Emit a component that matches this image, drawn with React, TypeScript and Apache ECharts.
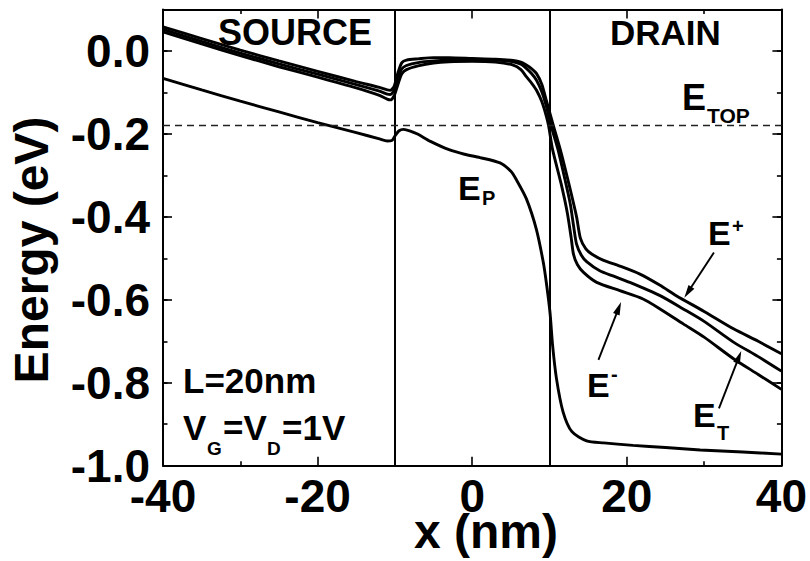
import React, { useEffect, useRef } from 'react';
import * as echarts from 'echarts';

// ---- data ----
const epX = [-40, -35, -30, -25, -20, -15, -12, -11, -10.4, -10, -9.5, -8.9, -8, -7, -5.4, -3, -1, 1, 3.6, 5, 5.7, 7, 8.3, 9.2, 9.6, 10.06, 10.4, 10.9, 11.75, 12.9, 14.8, 17, 20.8, 25, 29.5, 35, 40];
const epY = [-0.066, -0.094, -0.121, -0.147, -0.173, -0.197, -0.212, -0.217, -0.216, -0.205, -0.193, -0.189, -0.193, -0.201, -0.218, -0.238, -0.249, -0.257, -0.27, -0.29, -0.31, -0.356, -0.43, -0.51, -0.56, -0.63, -0.71, -0.79, -0.87, -0.918, -0.94, -0.945, -0.951, -0.956, -0.962, -0.967, -0.972];

const ePlusX = [-40, -35, -30, -25, -20, -15, -12, -11, -10.6, -10.1, -9.6, -9.1, -8.5, -7, -5, -3, 0, 3, 5.3, 6.3, 7, 7.7, 8.3, 9, 9.6, 10.5, 11.5, 12.5, 13.5, 14, 14.7, 15.5, 17, 19, 21.7, 24.3, 26.4, 30, 33.8, 37, 40];
const ePlusY = [0.058, 0.030, 0.002, -0.024, -0.049, -0.074, -0.088, -0.094, -0.095, -0.085, -0.052, -0.028, -0.022, -0.019, -0.016, -0.016, -0.018, -0.02, -0.023, -0.027, -0.034, -0.043, -0.054, -0.08, -0.12, -0.18, -0.245, -0.32, -0.4, -0.452, -0.477, -0.49, -0.505, -0.518, -0.538, -0.565, -0.59, -0.628, -0.67, -0.7, -0.73];

const eTX = [-40, -35, -30, -25, -20, -15, -12, -11, -10.6, -10.1, -9.6, -9.1, -8.5, -7, -5, -3, 0, 3, 5.3, 6.3, 7, 7.7, 8.3, 9, 9.6, 10.2, 11.1, 12, 12.7, 13.1, 13.5, 14.1, 14.8, 16.5, 18.3, 20.4, 24.3, 27.3, 30, 33.8, 37, 40];
const eTY = [0.052, 0.023, -0.005, -0.031, -0.056, -0.081, -0.097, -0.104, -0.105, -0.094, -0.065, -0.043, -0.035, -0.028, -0.024, -0.022, -0.021, -0.022, -0.026, -0.032, -0.042, -0.055, -0.07, -0.098, -0.134, -0.18, -0.238, -0.31, -0.37, -0.42, -0.466, -0.492, -0.508, -0.53, -0.543, -0.558, -0.59, -0.622, -0.652, -0.702, -0.737, -0.772];

const eMinusX = [-40, -35, -30, -25, -20, -15, -12, -11, -10.6, -10.1, -9.6, -9.1, -8.5, -7, -5, -3, 0, 3, 5.3, 6.3, 7, 7.7, 8.3, 9, 9.6, 9.9, 10.4, 11.5, 12.3, 12.8, 13.1, 13.6, 14.4, 16.1, 19.1, 22.1, 24.3, 27.3, 30, 33.8, 37, 40];
const eMinusY = [0.046, 0.017, -0.011, -0.038, -0.063, -0.089, -0.107, -0.116, -0.118, -0.108, -0.08, -0.055, -0.045, -0.036, -0.029, -0.026, -0.025, -0.027, -0.034, -0.045, -0.062, -0.078, -0.094, -0.122, -0.158, -0.182, -0.238, -0.32, -0.39, -0.45, -0.49, -0.515, -0.534, -0.558, -0.578, -0.598, -0.622, -0.658, -0.69, -0.742, -0.78, -0.816];

const gateEdges = [-10, 10];
const eTopLevel = -0.182;
const xRange = [-40, 40];
const yRange = [-1.0, 0.1];

// arrow annotations: [fromX, fromY, toX, toY]
const arrowPlus = [31.27, -0.486, 27.9, -0.582];
const arrowMinus = [16.33, -0.745, 18.95, -0.62];
const arrowT = [31.92, -0.862, 34.5, -0.738];

const FONT = '"Liberation Sans", Arial, Helvetica, sans-serif';

const zip = (xs: number[], ys: number[]) => xs.map((x, i) => [x, ys[i]]);

// text helper: left / baseline positioned bold text
const txt = (text: string, left: number, baseline: number, size: number) => ({
  type: 'text',
  x: left,
  y: baseline - 0.3465 * size,
  silent: true,
  style: {
    text,
    fill: '#000',
    font: `bold ${size}px ${FONT}`,
    lineHeight: Math.round(size * 0.8),
    align: 'left',
    verticalAlign: 'middle',
    textAlign: 'left',
    textVerticalAlign: 'middle',
  },
});

export default function App() {
  const ref = useRef<HTMLDivElement>(null);
  useEffect(() => {
    document.body.style.margin = '0';
    if (!ref.current) return;
    const chart = echarts.init(ref.current, null, { renderer: 'svg' });
    const lineCommon = {
      type: 'line',
      showSymbol: false,
      symbol: 'none',
      smooth: 0.25,
      xAxisIndex: 0,
      yAxisIndex: 0,
      lineStyle: { color: '#000', width: 2.9 },
      itemStyle: { color: '#000' },
      emphasis: { disabled: true },
      silent: true,
      z: 3,
    };
    const tickStyle = { color: '#000', width: 1.6 };
    const axisLine = { show: true, onZero: false, lineStyle: { color: '#000', width: 2 } };
    const noLine = { show: false, onZero: false };
    const baseX = {
      type: 'value', min: xRange[0], max: xRange[1], interval: 20,
      axisLine, splitLine: { show: false }, minorSplitLine: { show: false },
      axisTick: { inside: true, length: 9, lineStyle: tickStyle },
      minorTick: { show: true, splitNumber: 2, length: 4.5, lineStyle: tickStyle },
    };
    const baseY = {
      type: 'value', min: yRange[0], max: yRange[1],
      splitLine: { show: false },
    };
    const option = {
      animation: false,
      backgroundColor: '#fff',
      grid: { left: 163, right: 28.5, top: 9.5, bottom: 95.3, containLabel: false },
      xAxis: [
        {
          ...baseX, position: 'bottom',
          axisLabel: {
            margin: 15.5, color: '#000', fontSize: 46, lineHeight: 30, fontWeight: 'bold', fontFamily: FONT,
            showMinLabel: true, showMaxLabel: true,
            formatter: (v: number) => String(Math.round(v)),
          },
        },
        { ...baseX, position: 'top', axisLabel: { show: false } },
      ],
      yAxis: [
        {
          ...baseY, position: 'left', interval: 0.2,
          axisLine,
          axisTick: { inside: true, length: 9, lineStyle: tickStyle },
          axisLabel: {
            margin: 13, color: '#000', fontSize: 46, lineHeight: 29, fontWeight: 'bold', fontFamily: FONT,
            showMinLabel: true,
            formatter: (v: number) => (v > 0.05 ? '' : v.toFixed(1)),
          },
        },
        {
          ...baseY, position: 'left', interval: 0.1,
          axisLine: noLine,
          axisTick: { inside: true, length: 4.5, lineStyle: tickStyle },
          axisLabel: { show: false },
        },
        {
          ...baseY, position: 'right', interval: 0.2,
          axisLine,
          axisTick: { inside: true, length: 9, lineStyle: tickStyle },
          axisLabel: { show: false },
        },
        {
          ...baseY, position: 'right', interval: 0.1,
          axisLine: noLine,
          axisTick: { inside: true, length: 4.5, lineStyle: tickStyle },
          axisLabel: { show: false },
        },
      ],
      series: [
        {
          ...lineCommon, name: 'E_P', data: zip(epX, epY),
          markLine: {
            silent: true, symbol: 'none', animation: false,
            label: { show: false },
            emphasis: { disabled: true },
            lineStyle: { color: '#000', width: 2, type: 'solid' },
            data: gateEdges.map((g) => ({ xAxis: g })),
          },
        },
        {
          ...lineCommon, name: 'E+', data: zip(ePlusX, ePlusY),
          markLine: {
            silent: true, symbol: 'none', animation: false,
            label: { show: false },
            emphasis: { disabled: true },
            lineStyle: { color: '#222', width: 1.3, type: [7, 5] },
            data: [{ yAxis: eTopLevel }],
          },
        },
        {
          ...lineCommon, name: 'E_T', data: zip(eTX, eTY),
          markLine: {
            silent: true, animation: false,
            symbol: ['none', 'triangle'],
            symbolSize: [0, 12],
            label: { show: false },
            emphasis: { disabled: true },
            lineStyle: { color: '#000', width: 1.9, type: 'solid' },
            data: [arrowPlus, arrowMinus, arrowT].map((a) => [
              { coord: [a[0], a[1]], symbol: 'none' },
              { coord: [a[2], a[3]], symbol: 'triangle', symbolSize: [7, 13] },
            ]),
          },
        },
        { ...lineCommon, name: 'E-', data: zip(eMinusX, eMinusY) },
      ],
      graphic: [
        txt('SOURCE', 218, 45, 36),
        txt('DRAIN', 610, 45, 35),
        txt('E', 682, 110, 36), txt('TOP', 707, 123, 21),
        txt('E', 458, 200, 34), txt('P', 482, 205, 20),
        txt('E', 708, 245, 34), txt('+', 732, 233, 20),
        txt('E', 587, 397, 34), txt('-', 611, 381, 20),
        txt('E', 693, 427, 34), txt('T', 717, 440, 20),
        txt('L=20nm', 183, 393, 35),
        txt('V', 183, 440, 35), txt('G', 207, 455, 19),
        txt('=V', 223, 440, 35), txt('D', 267, 455, 19),
        txt('=1V', 282, 440, 35),
        {
          type: 'text', x: 486, y: 531, silent: true,
          style: {
            text: 'x (nm)', fill: '#000', font: `bold 48px ${FONT}`, lineHeight: 30,
            align: 'center', verticalAlign: 'middle', textAlign: 'center', textVerticalAlign: 'middle',
          },
        },
        {
          type: 'text', x: 31, y: 250, rotation: Math.PI / 2, silent: true,
          style: {
            text: 'Energy (eV)', fill: '#000', font: `bold 48px ${FONT}`, lineHeight: 36,
            align: 'center', verticalAlign: 'middle', textAlign: 'center', textVerticalAlign: 'middle',
          },
        },
      ],
    };
    chart.setOption(option as any);
    return () => chart.dispose();
  }, []);
  return <div ref={ref} style={{ width: 810, height: 561 }} />;
}
